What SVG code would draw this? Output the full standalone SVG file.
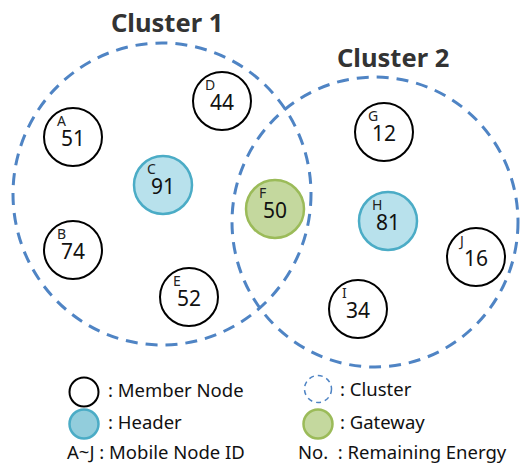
<svg xmlns="http://www.w3.org/2000/svg" width="521" height="463" viewBox="0 0 521 463">
<style>
.cl{fill:none;stroke:#4f84c4;stroke-width:3;stroke-dasharray:12 8}
.mem{fill:#fff;stroke:#000;stroke-width:2}
.hdr{fill:#b8e1ec;stroke:#4bacc6;stroke-width:2.5}
.gw{fill:#c4d89e;stroke:#9bbb59;stroke-width:2.5}
.id{font-family:"Noto Sans","Open Sans",sans-serif;font-size:14px;fill:#222}
.num{font-family:"Noto Sans","Open Sans",sans-serif;font-size:21px;fill:#111;text-anchor:middle}
.title{font-family:"Noto Sans","Open Sans",sans-serif;font-size:25.5px;font-weight:bold;fill:#333}
.lg{font-family:"Noto Sans","Open Sans",sans-serif;font-size:18.5px;fill:#111}
</style>
<rect width="521" height="463" fill="#fff"/>
<g id="clusters">
<ellipse id="cluster1" class="cl" cx="162" cy="194" rx="149" ry="151"/>
<ellipse id="cluster2" class="cl" cx="375" cy="222" rx="143" ry="145"/>
</g>
<text class="title" x="111" y="32">Cluster 1</text>
<text class="title" x="337" y="67">Cluster 2</text>
<g id="A"><circle class="mem" cx="73" cy="137" r="29"/><text class="id" x="57" y="126">A</text><text class="num" x="73" y="146">51</text></g>
<g id="D"><circle class="mem" cx="222" cy="101" r="29"/><text class="id" x="205" y="90">D</text><text class="num" x="222" y="110">44</text></g>
<g id="C"><circle class="hdr" cx="163" cy="185" r="29"/><text class="id" x="147" y="174">C</text><text class="num" x="163" y="194">91</text></g>
<g id="B"><circle class="mem" cx="73" cy="250" r="29"/><text class="id" x="57" y="239">B</text><text class="num" x="73" y="259">74</text></g>
<g id="E"><circle class="mem" cx="189" cy="297" r="29"/><text class="id" x="173" y="286">E</text><text class="num" x="189" y="306">52</text></g>
<g id="F"><circle class="gw" cx="275" cy="209" r="29"/><text class="id" x="259" y="198">F</text><text class="num" x="275" y="218">50</text></g>
<g id="G"><circle class="mem" cx="384" cy="132" r="29"/><text class="id" x="368" y="121">G</text><text class="num" x="384" y="141">12</text></g>
<g id="H"><circle class="hdr" cx="388" cy="221" r="29"/><text class="id" x="372" y="210">H</text><text class="num" x="388" y="230">81</text></g>
<g id="J"><circle class="mem" cx="476" cy="257" r="29"/><text class="id" x="460" y="246">J</text><text class="num" x="476" y="266">16</text></g>
<g id="I"><circle class="mem" cx="358" cy="309" r="29"/><text class="id" x="342" y="298">I</text><text class="num" x="358" y="318">34</text></g>
<g id="legend">
<circle class="mem" cx="84" cy="392" r="14.5"/>
<text class="lg" x="108" y="397">: Member Node</text>
<circle cx="84" cy="424" r="14.5" fill="#92cddc" stroke="#4bacc6" stroke-width="2.5"/>
<text class="lg" x="108" y="429">: Header</text>
<text class="lg" x="67" y="459">A~J : Mobile Node ID</text>
<circle cx="318" cy="389" r="13.5" fill="none" stroke="#4f84c4" stroke-width="1.5" stroke-dasharray="5 4"/>
<text class="lg" x="340" y="396">: Cluster</text>
<circle class="gw" cx="318" cy="424" r="14.5"/>
<text class="lg" x="340" y="429">: Gateway</text>
<text class="lg" x="298" y="459" xml:space="preserve">No.  : Remaining Energy</text>
</g>
</svg>
